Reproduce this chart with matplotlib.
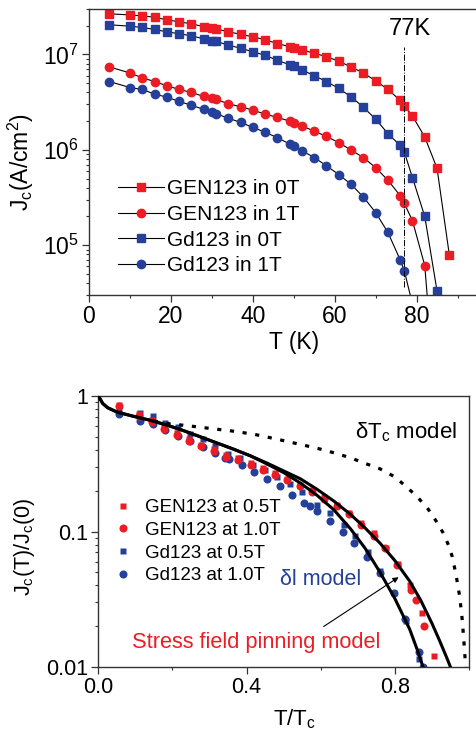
import matplotlib
matplotlib.use('Agg')
import matplotlib.pyplot as plt
from matplotlib.ticker import MultipleLocator, LogLocator, NullFormatter, FixedLocator, FixedFormatter

plt.rcParams['font.family'] = ['Liberation Sans', 'DejaVu Sans']
plt.rcParams['mathtext.fontset'] = 'custom'
plt.rcParams['mathtext.rm'] = 'Liberation Sans'
plt.rcParams['mathtext.it'] = 'Liberation Sans:italic'
plt.rcParams['mathtext.default'] = 'regular'

red = '#ed1c24'
blue = '#25409a'
dark = '#333333'

# ---- top panel: Jc vs T ----
T = [5, 10, 13, 16, 19, 22, 25, 28, 30, 31, 34, 37, 40, 43, 46, 49, 50, 52,
     55, 58, 61, 64, 67, 70, 73, 76, 77, 79, 82, 85, 88]
gen_0T = [2.67e7, 2.60e7, 2.54e7, 2.46e7, 2.31e7, 2.20e7, 2.10e7, 1.96e7, 1.88e7,
          1.86e7, 1.73e7, 1.63e7, 1.53e7, 1.43e7, 1.30e7, 1.21e7, 1.18e7, 1.12e7,
          1.03e7, 9.5e6, 8.5e6, 7.4e6, 6.4e6, 5.3e6, 4.3e6, 3.3e6, 2.9e6, 2.26e6,
          1.36e6, 6.4e5, 7.9e4]
gen_1T = [7.4e6, 6.4e6, 5.7e6, 5.2e6, 4.7e6, 4.3e6, 4.0e6, 3.63e6, 3.49e6, 3.38e6,
          3.05e6, 2.83e6, 2.61e6, 2.37e6, 2.19e6, 2.0e6, 1.93e6, 1.78e6, 1.57e6,
          1.38e6, 1.19e6, 9.95e5, 8.3e5, 6.5e5, 4.8e5, 3.3e5, 2.75e5, 1.8e5, 6.1e4,
          1.5e3]
gd_0T = [2.05e7, 1.98e7, 1.92e7, 1.83e7, 1.73e7, 1.65e7, 1.57e7, 1.46e7, 1.39e7,
         1.37e7, 1.26e7, 1.16e7, 1.07e7, 9.8e6, 8.7e6, 7.8e6, 7.5e6, 6.9e6, 6.0e6,
         5.2e6, 4.4e6, 3.6e6, 2.8e6, 2.1e6, 1.48e6, 1.11e6, 9.5e5, 5.1e5, 2.0e5, 3.3e4]
gd_1T = [5.2e6, 4.5e6, 4.3e6, 3.84e6, 3.57e6, 3.22e6, 2.93e6, 2.66e6, 2.47e6, 2.39e6,
         2.15e6, 1.94e6, 1.72e6, 1.53e6, 1.34e6, 1.15e6, 1.10e6, 9.8e5, 8.3e5, 6.8e5,
         5.5e5, 4.35e5, 3.2e5, 2.2e5, 1.36e5, 7.0e4, 5.4e4, 2.4e4]

# ---- bottom panel: normalized Jc vs T/Tc ----
t_gen05 = [.056, .111, .145, .177, .212, .245, .278, .311, .345, .378, .411, .444, .478,
           .510, .545, .576, .609, .644, .676, .709, .743, .776, .808, .842, .873, .905]
j_gen05 = [.853, .733, .662, .601, .537, .480, .438, .405, .370, .346, .318, .292, .268,
           .246, .220, .202, .179, .157, .136, .115, .097, .075, .058, .040, .025, .012]
t_gen10 = [.056, .111, .145, .177, .212, .245, .278, .311, .345, .378, .411, .444, .478,
           .510, .545, .576, .609, .644, .676, .709, .743, .774, .806, .844, .856, .878]
j_gen10 = [.84, .708, .644, .575, .513, .466, .426, .394, .356, .336, .309, .284, .261,
           .239, .216, .196, .175, .154, .134, .112, .093, .075, .057, .037, .031, .020]
t_gd05 = [.056, .112, .147, .181, .215, .248, .282, .315, .349, .383, .416, .450, .483,
          .518, .549, .590, .626, .662, .693, .727, .761, .797, .830, .864]
j_gd05 = [.78, .754, .708, .637, .592, .528, .480, .428, .376, .346, .309, .284, .253,
          .224, .196, .157, .138, .112, .092, .071, .051, .035, .022, .0115]
t_gd10 = [.056, .112, .147, .181, .215, .248, .282, .315, .343, .352, .387, .420, .455,
          .489, .523, .555, .570, .591, .626, .659, .691, .726, .761, .797, .828, .864, .876]
j_gd10 = [.741, .651, .626, .559, .505, .464, .421, .380, .346, .342, .307, .274, .242,
          .216, .187, .163, .154, .142, .119, .099, .082, .065, .049, .035, .0226, .0130, .0100]

# model curves
t_sf = [0, .005, .012, .025, .05, .095, .14, .185, .23, .275, .32, .365, .41, .455, .50,
        .545, .59, .635, .68, .72, .76, .80, .84, .87, .90, .92, .94, .95]
j_sf = [1.0, .95, .88, .82, .762, .708, .662, .610, .555, .500, .450, .405, .362, .320,
        .280, .245, .205, .168, .134, .106, .082, .061, .043, .031, .021, .0158, .0117, .0100]
t_dl = [0, .005, .012, .025, .05, .095, .14, .185, .23, .275, .32, .365, .41, .455, .50,
        .545, .59, .635, .68, .72, .76, .80, .84, .86, .876]
j_dl = [1.0, .95, .88, .82, .762, .708, .662, .610, .555, .500, .450, .405, .362, .315,
        .272, .228, .185, .145, .105, .075, .050, .032, .019, .0135, .0100]
t_dtc = [.15, .19, .24, .30, .36, .42, .47, .52, .56, .60, .64, .68, .72, .76, .80, .83,
         .86, .89, .91, .93, .945, .955, .965, .975, .982, .987, .991]
j_dtc = [.655, .625, .604, .577, .552, .522, .488, .455, .430, .405, .378, .350, .318,
         .290, .253, .215, .181, .146, .121, .098, .079, .065, .048, .033, .022, .0145, .0100]

fig = plt.figure(figsize=(4.77, 7.36), dpi=100)

# ================= top =================
ax1 = fig.add_axes([89/477, 1-295/736, 389/477, 286/736])
kw = dict(color='k', lw=0.8, clip_on=True)
ax1.plot(T, gen_0T, marker='s', ms=5.5, mfc=red, mec=red, label='GEN123 in 0T', **kw)
ax1.plot(T[:len(gen_1T)], gen_1T, marker='o', ms=6, mfc=red, mec=red, label='GEN123 in 1T', **kw)
ax1.plot(T[:len(gd_0T)], gd_0T, marker='s', ms=5.5, mfc=blue, mec=blue, label='Gd123 in 0T', **kw)
ax1.plot(T[:len(gd_1T)], gd_1T, marker='o', ms=6, mfc=blue, mec=blue, label='Gd123 in 1T', **kw)
ax1.vlines(77, 3.6e4, 1.2e7, colors='k', linestyles='-.', lw=0.7)
ax1.text(78.3, 1.85e7, '77K', fontsize=17, ha='center', va='center')

ax1.set_yscale('log')
ax1.set_xlim(0, 95)
ax1.set_ylim(3e4, 3e7)
ax1.xaxis.set_major_locator(MultipleLocator(20))
ax1.xaxis.set_minor_locator(MultipleLocator(10))
ax1.yaxis.set_major_locator(LogLocator(base=10))
ax1.yaxis.set_minor_locator(LogLocator(base=10, subs=range(2, 10)))
ax1.yaxis.set_minor_formatter(NullFormatter())
ax1.tick_params(labelsize=16.5, length=5, width=0.9, color=dark, pad=2)
ax1.tick_params(which='minor', length=2.5, width=0.8, color=dark)
ax1.set_xlabel('T (K)', fontsize=16.5)
ax1.xaxis.set_label_coords(0.526, -0.126)
ax1.set_ylabel(r'J$_c$(A/cm$^2$)', fontsize=16.5)
ax1.yaxis.set_label_coords(-0.135, 0.465)
for s in ax1.spines.values():
    s.set_color(dark)
    s.set_linewidth(1.0)
ax1.legend(loc='upper left', bbox_to_anchor=(0.075, 0.405), frameon=False, fontsize=15,
           handlelength=2.2, handletextpad=0.15, labelspacing=0.32, borderpad=0,
           borderaxespad=0)

# ================= bottom =================
ax2 = fig.add_axes([98.3/477, 1-667/736, 370.7/477, 271/736])
ax2.plot(t_gd10, j_gd10, 'o', ms=5.8, color=blue, mec='none', label='Gd123 at 1.0T')
ax2.plot(t_gd05, j_gd05, 's', ms=5.0, color=blue, mec='none', label='Gd123 at 0.5T')
ax2.plot(t_gen10, j_gen10, 'o', ms=5.8, color=red, mec='none', label='GEN123 at 1.0T')
ax2.plot(t_gen05, j_gen05, 's', ms=5.0, color=red, mec='none', label='GEN123 at 0.5T')
ax2.plot(t_sf, j_sf, '-', color='k', lw=2.2, zorder=3)
ax2.plot(t_dl, j_dl, '-', color='k', lw=2.2, zorder=3)
ax2.plot(t_dtc, j_dtc, color='k', lw=2.3, linestyle=(0, (1.3, 2.7)), zorder=3)

ax2.annotate('', xy=(0.81, 0.046), xytext=(0.608, 0.0199),
             arrowprops=dict(arrowstyle='-|>', color='k', lw=0.8, mutation_scale=8,
                             shrinkA=0, shrinkB=0))
ax2.text(0.693, 0.488, r'δT$_c$ model', fontsize=16, ha='left', va='baseline')
ax2.text(0.491, 0.0404, 'δl model', fontsize=15.5, color=blue, ha='left', va='baseline')
ax2.text(0.091, 0.01387, 'Stress field pinning model', fontsize=15.7, color=red,
         ha='left', va='baseline')

ax2.set_yscale('log')
ax2.set_xlim(0, 1.0)
ax2.set_ylim(0.01, 1)
ax2.xaxis.set_major_locator(FixedLocator([0.0, 0.4, 0.8]))
ax2.xaxis.set_major_formatter(FixedFormatter(['0.0', '0.4', '0.8']))
ax2.xaxis.set_minor_locator(FixedLocator([0.2, 0.6, 1.0]))
ax2.yaxis.set_major_locator(FixedLocator([0.01, 0.1, 1]))
ax2.yaxis.set_major_formatter(FixedFormatter(['0.01', '0.1', '1']))
ax2.yaxis.set_minor_locator(LogLocator(base=10, subs=range(2, 10)))
ax2.yaxis.set_minor_formatter(NullFormatter())
ax2.tick_params(labelsize=15.5, length=5, width=0.9, color=dark, pad=2)
ax2.tick_params(which='minor', length=2.5, width=0.8, color=dark)
ax2.set_xlabel(r'T/T$_c$', fontsize=16)
ax2.xaxis.set_label_coords(0.53, -0.148)
ax2.set_ylabel(r'J$_c$(T)/J$_c$(0)', fontsize=15.5)
ax2.yaxis.set_label_coords(-0.165, 0.443)
for s in ax2.spines.values():
    s.set_color(dark)
    s.set_linewidth(1.0)
h, l = ax2.get_legend_handles_labels()
ax2.legend(h[::-1], l[::-1], loc='upper left', bbox_to_anchor=(0.042, 0.62), frameon=False,
           fontsize=13.5, handlelength=1.0, handletextpad=0.65, labelspacing=0.3,
           borderpad=0, borderaxespad=0)

fig.savefig('out.png', dpi=100)
